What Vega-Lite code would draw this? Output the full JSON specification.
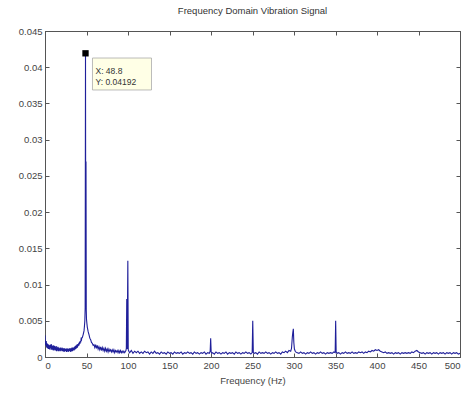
{
  "$schema": "https://vega.github.io/schema/vega-lite/v6.json",
  "width": 415,
  "height": 326,
  "autosize": {"type": "none"},
  "padding": {"left": 45, "top": 31, "right": 11, "bottom": 37},
  "background": "white",
  "title": {"text": "Frequency Domain Vibration Signal", "fontSize": 9.5, "fontWeight": "normal", "color": "#333333", "font": "Liberation Sans", "offset": 11, "anchor": "middle"},
  "config": {
    "view": {"stroke": "#555555", "strokeWidth": 1},
    "axis": {"grid": false, "domainColor": "#555555", "tickColor": "#555555", "tickSize": -4, "labelPadding": 7, "labelFont": "Liberation Sans", "labelFontSize": 9.5, "labelColor": "#444444", "titleFont": "Liberation Sans", "titleFontSize": 9.5, "titleFontWeight": "normal", "titleColor": "#444444"}
  },
  "datasets": {
    "spec": [
      {"f": 0, "a": 0.0030}, {"f": 0.5, "a": 0.0019}, {"f": 1, "a": 0.0016}, {"f": 1.5, "a": 0.0022}, {"f": 2, "a": 0.0013}, {"f": 2.5, "a": 0.0019}, {"f": 3, "a": 0.0012}, {"f": 3.5, "a": 0.0018}, {"f": 4, "a": 0.0011}, {"f": 4.5, "a": 0.0017},
      {"f": 5, "a": 0.0011}, {"f": 5.5, "a": 0.0016}, {"f": 6, "a": 0.0010}, {"f": 6.5, "a": 0.0017}, {"f": 7, "a": 0.0012}, {"f": 7.5, "a": 0.0018}, {"f": 8, "a": 0.0010}, {"f": 8.5, "a": 0.0016}, {"f": 9, "a": 0.0010}, {"f": 9.5, "a": 0.0015},
      {"f": 10, "a": 0.0009}, {"f": 10.5, "a": 0.0016}, {"f": 11, "a": 0.0010}, {"f": 11.5, "a": 0.0015}, {"f": 12, "a": 0.0009}, {"f": 12.5, "a": 0.0014}, {"f": 13, "a": 0.0009}, {"f": 13.5, "a": 0.0015}, {"f": 14, "a": 0.0008}, {"f": 14.5, "a": 0.0013},
      {"f": 15, "a": 0.0009}, {"f": 15.5, "a": 0.0014}, {"f": 16, "a": 0.0008}, {"f": 16.5, "a": 0.0013}, {"f": 17, "a": 0.0008}, {"f": 17.5, "a": 0.0012}, {"f": 18, "a": 0.0009}, {"f": 18.5, "a": 0.0013}, {"f": 19, "a": 0.0008}, {"f": 19.5, "a": 0.0012},
      {"f": 20, "a": 0.0009}, {"f": 20.5, "a": 0.0013}, {"f": 21, "a": 0.0008}, {"f": 21.5, "a": 0.0012}, {"f": 22, "a": 0.0008}, {"f": 22.5, "a": 0.0012}, {"f": 23, "a": 0.0007}, {"f": 23.5, "a": 0.0012}, {"f": 24, "a": 0.0008}, {"f": 24.5, "a": 0.0011},
      {"f": 25, "a": 0.0008}, {"f": 25.5, "a": 0.0012}, {"f": 26, "a": 0.0007}, {"f": 26.5, "a": 0.0011}, {"f": 27, "a": 0.0008}, {"f": 27.5, "a": 0.0012}, {"f": 28, "a": 0.0007}, {"f": 28.5, "a": 0.0011}, {"f": 29, "a": 0.0008}, {"f": 29.5, "a": 0.0012},
      {"f": 30, "a": 0.0008}, {"f": 30.5, "a": 0.0012}, {"f": 31, "a": 0.0007}, {"f": 31.5, "a": 0.0012}, {"f": 32, "a": 0.0008}, {"f": 32.5, "a": 0.0013}, {"f": 33, "a": 0.0008}, {"f": 33.5, "a": 0.0013}, {"f": 34, "a": 0.0009}, {"f": 34.5, "a": 0.0013},
      {"f": 35, "a": 0.0009}, {"f": 35.5, "a": 0.0014}, {"f": 36, "a": 0.0010}, {"f": 36.5, "a": 0.0015}, {"f": 37, "a": 0.0011}, {"f": 37.5, "a": 0.0016}, {"f": 38, "a": 0.0012}, {"f": 38.5, "a": 0.0017}, {"f": 39, "a": 0.0013}, {"f": 39.5, "a": 0.0018},
      {"f": 40, "a": 0.0015}, {"f": 40.5, "a": 0.0019}, {"f": 41, "a": 0.0016}, {"f": 41.5, "a": 0.0021}, {"f": 42, "a": 0.0018}, {"f": 42.5, "a": 0.0022}, {"f": 43, "a": 0.0020}, {"f": 43.5, "a": 0.0025}, {"f": 44, "a": 0.0024}, {"f": 44.5, "a": 0.0027},
      {"f": 45, "a": 0.0027}, {"f": 46, "a": 0.0031}, {"f": 47, "a": 0.0036}, {"f": 47.5, "a": 0.0042}, {"f": 48, "a": 0.0050},
      {"f": 48.4, "a": 0.0068}, {"f": 48.8, "a": 0.04192}, {"f": 49.1, "a": 0.0080}, {"f": 49.4, "a": 0.0270}, {"f": 49.7, "a": 0.0065}, {"f": 50, "a": 0.0052}, {"f": 50.5, "a": 0.0046}, {"f": 51, "a": 0.0041}, {"f": 52, "a": 0.0035}, {"f": 53, "a": 0.0031},
      {"f": 54, "a": 0.0026}, {"f": 55, "a": 0.0024}, {"f": 56, "a": 0.0020}, {"f": 57, "a": 0.0019}, {"f": 58, "a": 0.0016}, {"f": 59, "a": 0.0017},
      {"f": 60, "a": 0.0013}, {"f": 61, "a": 0.0017}, {"f": 62, "a": 0.0012}, {"f": 63, "a": 0.0016}, {"f": 64, "a": 0.0011}, {"f": 65, "a": 0.0014}, {"f": 66, "a": 0.0010}, {"f": 67, "a": 0.0014}, {"f": 68, "a": 0.0009}, {"f": 69, "a": 0.0013},
      {"f": 70, "a": 0.0009}, {"f": 71, "a": 0.0012}, {"f": 72, "a": 0.0008}, {"f": 73, "a": 0.0012}, {"f": 74, "a": 0.0008}, {"f": 75, "a": 0.0011}, {"f": 76, "a": 0.0007}, {"f": 77, "a": 0.0011}, {"f": 78, "a": 0.0008}, {"f": 79, "a": 0.0010},
      {"f": 80, "a": 0.0007}, {"f": 81, "a": 0.0010}, {"f": 82, "a": 0.0007}, {"f": 83, "a": 0.0010}, {"f": 84, "a": 0.0006}, {"f": 85, "a": 0.0009}, {"f": 86, "a": 0.0007}, {"f": 87, "a": 0.0009}, {"f": 88, "a": 0.0006}, {"f": 89, "a": 0.0009},
      {"f": 90, "a": 0.0006}, {"f": 91, "a": 0.0009}, {"f": 92, "a": 0.0006}, {"f": 93, "a": 0.0008}, {"f": 94, "a": 0.0006}, {"f": 95, "a": 0.0008}, {"f": 96, "a": 0.0006}, {"f": 97, "a": 0.0008},
      {"f": 97.5, "a": 0.0009}, {"f": 98, "a": 0.0012}, {"f": 98.5, "a": 0.0080}, {"f": 99, "a": 0.0011}, {"f": 99.8, "a": 0.0133},
      {"f": 100.3, "a": 0.0010}, {"f": 101, "a": 0.0008}, {"f": 102, "a": 0.0006}, {"f": 104, "a": 0.0009}, {"f": 106, "a": 0.0005}, {"f": 108, "a": 0.0008}, {"f": 110, "a": 0.0006}, {"f": 112, "a": 0.0008}, {"f": 114, "a": 0.0005}, {"f": 116, "a": 0.0007},
      {"f": 118, "a": 0.0005}, {"f": 120, "a": 0.0008}, {"f": 122, "a": 0.0006}, {"f": 124, "a": 0.0007}, {"f": 126, "a": 0.0004}, {"f": 128, "a": 0.0007}, {"f": 130, "a": 0.0005}, {"f": 132, "a": 0.0008}, {"f": 134, "a": 0.0005}, {"f": 136, "a": 0.0006},
      {"f": 138, "a": 0.0004}, {"f": 140, "a": 0.0007}, {"f": 142, "a": 0.0005}, {"f": 144, "a": 0.0006}, {"f": 146, "a": 0.0004}, {"f": 148, "a": 0.0007}, {"f": 150, "a": 0.0005}, {"f": 152, "a": 0.0006}, {"f": 154, "a": 0.0004}, {"f": 156, "a": 0.0007},
      {"f": 158, "a": 0.0005}, {"f": 160, "a": 0.0006}, {"f": 162, "a": 0.0005}, {"f": 164, "a": 0.0007}, {"f": 166, "a": 0.0004}, {"f": 168, "a": 0.0006}, {"f": 170, "a": 0.0005}, {"f": 172, "a": 0.0007}, {"f": 174, "a": 0.0005}, {"f": 176, "a": 0.0006},
      {"f": 178, "a": 0.0004}, {"f": 180, "a": 0.0007}, {"f": 182, "a": 0.0005}, {"f": 184, "a": 0.0006}, {"f": 186, "a": 0.0004}, {"f": 188, "a": 0.0006}, {"f": 190, "a": 0.0005}, {"f": 192, "a": 0.0007}, {"f": 194, "a": 0.0004}, {"f": 196, "a": 0.0006},
      {"f": 198, "a": 0.0005}, {"f": 199, "a": 0.0008}, {"f": 199.6, "a": 0.0026}, {"f": 200.2, "a": 0.0007}, {"f": 201, "a": 0.0005}, {"f": 202, "a": 0.0006}, {"f": 204, "a": 0.0004}, {"f": 206, "a": 0.0007}, {"f": 208, "a": 0.0005}, {"f": 210, "a": 0.0006},
      {"f": 212, "a": 0.0004}, {"f": 214, "a": 0.0006}, {"f": 216, "a": 0.0005}, {"f": 218, "a": 0.0007}, {"f": 220, "a": 0.0004}, {"f": 222, "a": 0.0006}, {"f": 224, "a": 0.0005}, {"f": 226, "a": 0.0006}, {"f": 228, "a": 0.0004}, {"f": 230, "a": 0.0007},
      {"f": 232, "a": 0.0005}, {"f": 234, "a": 0.0006}, {"f": 236, "a": 0.0004}, {"f": 238, "a": 0.0006}, {"f": 240, "a": 0.0005}, {"f": 242, "a": 0.0007}, {"f": 244, "a": 0.0005}, {"f": 246, "a": 0.0006}, {"f": 248, "a": 0.0004}, {"f": 249.6, "a": 0.0006},
      {"f": 250.3, "a": 0.0050}, {"f": 251, "a": 0.0006}, {"f": 252, "a": 0.0005}, {"f": 254, "a": 0.0006}, {"f": 256, "a": 0.0004}, {"f": 258, "a": 0.0007}, {"f": 260, "a": 0.0005}, {"f": 262, "a": 0.0006}, {"f": 264, "a": 0.0005}, {"f": 266, "a": 0.0007},
      {"f": 268, "a": 0.0005}, {"f": 270, "a": 0.0006}, {"f": 272, "a": 0.0004}, {"f": 274, "a": 0.0006}, {"f": 276, "a": 0.0005}, {"f": 278, "a": 0.0007}, {"f": 280, "a": 0.0005}, {"f": 282, "a": 0.0006}, {"f": 284, "a": 0.0004}, {"f": 286, "a": 0.0007},
      {"f": 288, "a": 0.0006}, {"f": 290, "a": 0.0008}, {"f": 292, "a": 0.0006}, {"f": 294, "a": 0.0009}, {"f": 296, "a": 0.0008}, {"f": 297, "a": 0.0012}, {"f": 298, "a": 0.0028}, {"f": 298.6, "a": 0.0034}, {"f": 299.2, "a": 0.0039}, {"f": 299.8, "a": 0.0020},
      {"f": 300.5, "a": 0.0011}, {"f": 301.5, "a": 0.0008}, {"f": 302, "a": 0.0007}, {"f": 304, "a": 0.0006}, {"f": 306, "a": 0.0005}, {"f": 308, "a": 0.0007}, {"f": 310, "a": 0.0005}, {"f": 312, "a": 0.0006}, {"f": 314, "a": 0.0004}, {"f": 316, "a": 0.0006},
      {"f": 318, "a": 0.0005}, {"f": 320, "a": 0.0007}, {"f": 322, "a": 0.0005}, {"f": 324, "a": 0.0006}, {"f": 326, "a": 0.0004}, {"f": 328, "a": 0.0006}, {"f": 330, "a": 0.0005}, {"f": 332, "a": 0.0007}, {"f": 334, "a": 0.0005}, {"f": 336, "a": 0.0006},
      {"f": 338, "a": 0.0004}, {"f": 340, "a": 0.0006}, {"f": 342, "a": 0.0005}, {"f": 344, "a": 0.0006}, {"f": 346, "a": 0.0005}, {"f": 348, "a": 0.0007}, {"f": 349.6, "a": 0.0006}, {"f": 350.2, "a": 0.0050}, {"f": 350.8, "a": 0.0007}, {"f": 352, "a": 0.0005},
      {"f": 354, "a": 0.0006}, {"f": 356, "a": 0.0004}, {"f": 358, "a": 0.0006}, {"f": 360, "a": 0.0005}, {"f": 362, "a": 0.0007}, {"f": 364, "a": 0.0005}, {"f": 366, "a": 0.0006}, {"f": 368, "a": 0.0005}, {"f": 370, "a": 0.0007}, {"f": 372, "a": 0.0005},
      {"f": 374, "a": 0.0006}, {"f": 376, "a": 0.0005}, {"f": 378, "a": 0.0007}, {"f": 380, "a": 0.0006}, {"f": 382, "a": 0.0007}, {"f": 384, "a": 0.0005}, {"f": 386, "a": 0.0007}, {"f": 388, "a": 0.0006}, {"f": 390, "a": 0.0008}, {"f": 392, "a": 0.0007},
      {"f": 394, "a": 0.0009}, {"f": 396, "a": 0.0008}, {"f": 398, "a": 0.0010}, {"f": 400, "a": 0.0009}, {"f": 402, "a": 0.0010}, {"f": 404, "a": 0.0008}, {"f": 406, "a": 0.0007}, {"f": 408, "a": 0.0006}, {"f": 410, "a": 0.0007}, {"f": 412, "a": 0.0005},
      {"f": 414, "a": 0.0006}, {"f": 416, "a": 0.0005}, {"f": 418, "a": 0.0006}, {"f": 420, "a": 0.0004}, {"f": 422, "a": 0.0006}, {"f": 424, "a": 0.0005}, {"f": 426, "a": 0.0006}, {"f": 428, "a": 0.0004}, {"f": 430, "a": 0.0006}, {"f": 432, "a": 0.0005},
      {"f": 434, "a": 0.0006}, {"f": 436, "a": 0.0005}, {"f": 438, "a": 0.0006}, {"f": 440, "a": 0.0005}, {"f": 442, "a": 0.0007}, {"f": 444, "a": 0.0006}, {"f": 446, "a": 0.0008}, {"f": 448, "a": 0.0009}, {"f": 450, "a": 0.0007}, {"f": 452, "a": 0.0006},
      {"f": 454, "a": 0.0005}, {"f": 456, "a": 0.0006}, {"f": 458, "a": 0.0004}, {"f": 460, "a": 0.0006}, {"f": 462, "a": 0.0005}, {"f": 464, "a": 0.0006}, {"f": 466, "a": 0.0004}, {"f": 468, "a": 0.0006}, {"f": 470, "a": 0.0005}, {"f": 472, "a": 0.0006},
      {"f": 474, "a": 0.0004}, {"f": 476, "a": 0.0006}, {"f": 478, "a": 0.0005}, {"f": 480, "a": 0.0006}, {"f": 482, "a": 0.0004}, {"f": 484, "a": 0.0006}, {"f": 486, "a": 0.0005}, {"f": 488, "a": 0.0006}, {"f": 490, "a": 0.0004}, {"f": 492, "a": 0.0006},
      {"f": 494, "a": 0.0005}, {"f": 496, "a": 0.0006}, {"f": 498, "a": 0.0004}, {"f": 500, "a": 0.0005}
    ],
    "tipbox": [{"x1": 57.2, "x2": 128.3, "y1": 0.04127, "y2": 0.03686}],
    "tiptext": [
      {"x": 60.8, "y": 0.03952, "label": "X: 48.8"},
      {"x": 60.8, "y": 0.03796, "label": "Y: 0.04192"}
    ],
    "tippoint": [{"f": 48.8, "a": 0.04192}]
  },
  "layer": [
    {
      "data": {"name": "spec"},
      "mark": {"type": "line", "color": "#1f1f9a", "strokeWidth": 1.1, "clip": true},
      "encoding": {
        "x": {"field": "f", "type": "quantitative", "scale": {"domain": [0, 500], "nice": false, "zero": false},
              "axis": {"orient": "bottom", "title": "Frequency (Hz)", "values": [0, 50, 100, 150, 200, 250, 300, 350, 400, 450, 500], "titlePadding": 6}},
        "y": {"field": "a", "type": "quantitative", "scale": {"domain": [0, 0.045], "nice": false},
              "axis": {"orient": "left", "title": null, "values": [0, 0.005, 0.01, 0.015, 0.02, 0.025, 0.03, 0.035, 0.04, 0.045], "format": "~g"}}
      }
    },
    {
      "data": {"name": "spec"},
      "mark": {"type": "line", "opacity": 0},
      "encoding": {
        "x": {"field": "f", "type": "quantitative", "axis": {"orient": "top", "title": null, "labels": false, "values": [0, 50, 100, 150, 200, 250, 300, 350, 400, 450, 500]}},
        "y": {"field": "a", "type": "quantitative", "axis": {"orient": "right", "title": null, "labels": false, "values": [0, 0.005, 0.01, 0.015, 0.02, 0.025, 0.03, 0.035, 0.04, 0.045]}}
      }
    },
    {
      "data": {"name": "tipbox"},
      "mark": {"type": "rect", "fill": "#ffffe6", "stroke": "#aaaaaa", "strokeWidth": 0.8},
      "encoding": {
        "x": {"field": "x1", "type": "quantitative", "axis": null},
        "x2": {"field": "x2"},
        "y": {"field": "y1", "type": "quantitative", "axis": null},
        "y2": {"field": "y2"}
      }
    },
    {
      "data": {"name": "tiptext"},
      "mark": {"type": "text", "align": "left", "baseline": "middle", "font": "Liberation Sans", "fontSize": 8.5, "color": "#333333"},
      "encoding": {
        "x": {"field": "x", "type": "quantitative", "axis": null},
        "y": {"field": "y", "type": "quantitative", "axis": null},
        "text": {"field": "label"}
      }
    },
    {
      "data": {"name": "tippoint"},
      "mark": {"type": "square", "filled": true, "color": "#000000", "size": 40, "opacity": 1},
      "encoding": {
        "x": {"field": "f", "type": "quantitative", "axis": null},
        "y": {"field": "a", "type": "quantitative", "axis": null}
      }
    }
  ],
  "resolve": {"axis": {"x": "independent", "y": "independent"}}
}
